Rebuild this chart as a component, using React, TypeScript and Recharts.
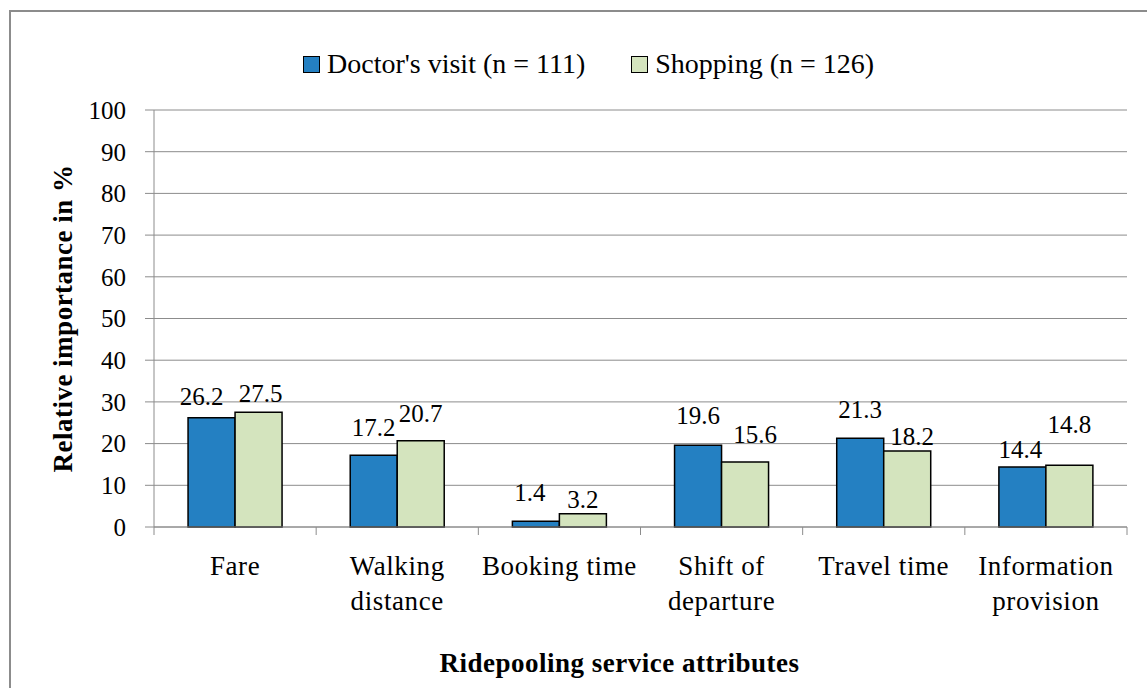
import { BarChart, Bar, XAxis, YAxis, CartesianGrid, Legend, LabelList, Label } from "recharts";

const CATEGORIES = ["Fare", "Walking\ndistance", "Booking time", "Shift of\ndeparture", "Travel time", "Information\nprovision"];
const DOCTOR = [26.2, 17.2, 1.4, 19.6, 21.3, 14.4];
const SHOPPING = [27.5, 20.7, 3.2, 15.6, 18.2, 14.8];
const Y_TICKS = [0, 10, 20, 30, 40, 50, 60, 70, 80, 90, 100];

const SERIES = [
  { key: "doctor", name: "Doctor's visit (n = 111)", color: "#2480c2" },
  { key: "shopping", name: "Shopping (n = 126)", color: "#d4e4be" },
];

// hand placed data labels in the original: [dx, gap above bar]
const LABEL_NUDGE: Record<string, number[][]> = {
  doctor: [[-10, 13], [0, 19], [-6, 20], [0, 21], [0, 20], [-2, 9]],
  shopping: [[2, 10], [0, 19], [0, 6], [10, 19], [5, 6], [0, 32]],
};

const W = 1147;
const H = 688;
const PLOT_LEFT = 154;
const PLOT_RIGHT = 1127;
const AXIS = "#8c8c8c";
const FONT = '"Liberation Serif", "Times New Roman", serif';
const FS_NUM = 25;
const FS_TEXT = 27;

const data = CATEGORIES.map((c, i) => ({ name: c, doctor: DOCTOR[i], shopping: SHOPPING[i] }));

function CategoryTick(props: any) {
  const { x, y, payload, index } = props;
  const band = (PLOT_RIGHT - PLOT_LEFT) / CATEGORIES.length;
  const axisY = y - 48;
  const lines = String(payload.value).split("\n");
  return (
    <g>
      <line x1={x - band / 2} x2={x - band / 2} y1={axisY} y2={axisY + 8} stroke={AXIS} />
      {index === CATEGORIES.length - 1 && (
        <line x1={x + band / 2} x2={x + band / 2} y1={axisY} y2={axisY + 8} stroke={AXIS} />
      )}
      <text x={x} y={y} textAnchor="middle" fontSize={FS_TEXT} fill="#000" style={{ letterSpacing: 0.6 }}>
        {lines.map((l, i) => (
          <tspan key={i} x={x} dy={i === 0 ? 0 : 35}>
            {l}
          </tspan>
        ))}
      </text>
    </g>
  );
}

const valueLabel = (key: string) => (props: any) => {
  const { x, y, width, value, index } = props;
  const [dx, gap] = LABEL_NUDGE[key][index] || [0, 6];
  return (
    <text x={Number(x) + Number(width) / 2 + dx} y={Number(y) - gap} textAnchor="middle" fontSize={FS_NUM} fill="#000">
      {value}
    </text>
  );
};

function LegendContent(props: any) {
  const { payload = [] } = props;
  return (
    <div style={{ display: "flex", alignItems: "center", height: 40, fontSize: 28, fontFamily: FONT, color: "#000", whiteSpace: "nowrap" }}>
      {payload.map((p: any) => (
        <span key={p.value} style={{ display: "flex", alignItems: "center", marginRight: 46 }}>
          <span
            style={{
              width: 17,
              height: 17,
              boxSizing: "border-box",
              border: "1.5px solid #000",
              background: p.color,
              marginRight: 7,
            }}
          />
          {p.value}
        </span>
      ))}
    </div>
  );
}

export default function App() {
  return (
    <div style={{ position: "absolute", left: 0, top: 0, width: W, height: H, background: "#fff", fontFamily: FONT, overflow: "hidden" }}>
      <div style={{ position: "absolute", left: 9, top: 10, width: W, height: H, borderTop: `2px solid ${AXIS}`, borderLeft: `2px solid ${AXIS}` }} />
      <BarChart width={W} height={H} data={data} margin={{ top: 70, right: W - PLOT_RIGHT, bottom: 0, left: 0 }} barGap={0} barCategoryGap="21%">
        <CartesianGrid vertical={false} stroke={AXIS} />
        <Legend verticalAlign="top" content={<LegendContent />} wrapperStyle={{ left: 303, top: 44, width: 640, height: 40 }} />
        <XAxis
          dataKey="name"
          interval={0}
          height={H - 527}
          axisLine={{ stroke: AXIS }}
          tickLine={false}
          tickSize={8}
          tickMargin={40}
          tick={<CategoryTick />}
        >
          <Label
            content={(p: any) => {
              const vb = p.viewBox;
              return (
                <text
                  x={vb.x + vb.width / 2 - 21}
                  y={vb.y + 145}
                  textAnchor="middle"
                  fontSize={FS_TEXT}
                  fontWeight="bold"
                  fill="#000"
                  style={{ letterSpacing: 0.5 }}
                >
                  Ridepooling service attributes
                </text>
              );
            }}
          />
        </XAxis>
        <YAxis
          width={PLOT_LEFT}
          domain={[0, 100]}
          ticks={Y_TICKS}
          interval={0}
          tickSize={9}
          tickMargin={19}
          axisLine={{ stroke: AXIS }}
          tickLine={{ stroke: AXIS }}
          tick={{ fill: "#000", fontSize: FS_NUM }}
        >
          <Label
            content={(p: any) => {
              const vb = p.viewBox;
              const cy = vb.y + vb.height / 2;
              return (
                <text
                  x={72}
                  y={cy}
                  transform={`rotate(-90 72 ${cy})`}
                  textAnchor="middle"
                  fontSize={FS_TEXT}
                  fontWeight="bold"
                  fill="#000"
                  style={{ letterSpacing: 0.5 }}
                >
                  Relative importance in %
                </text>
              );
            }}
          />
        </YAxis>
        {SERIES.map((s) => (
          <Bar key={s.key} dataKey={s.key} name={s.name} fill={s.color} stroke="#000" strokeWidth={1.5} isAnimationActive={false}>
            <LabelList dataKey={s.key} content={valueLabel(s.key)} />
          </Bar>
        ))}
      </BarChart>
    </div>
  );
}
